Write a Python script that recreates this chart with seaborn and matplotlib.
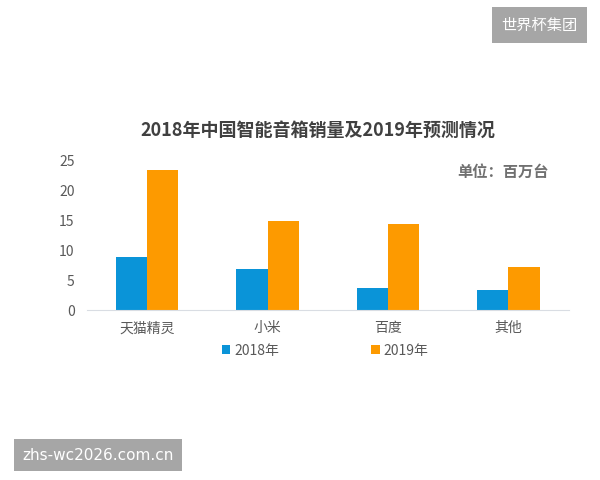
import matplotlib
matplotlib.use("Agg")
import matplotlib.pyplot as plt
import seaborn as sns
import pandas as pd

brands = ["天猫精灵", "小米", "百度", "其他"]
years = ["2018年", "2019年"]
sales_2018 = [8.8, 6.9, 3.7, 3.4]
sales_2019 = [23.4, 14.9, 14.4, 7.2]
y_ticks = [0, 5, 10, 15, 20, 25]

df = pd.DataFrame({
    "brand": brands * 2,
    "year": [years[0]] * 4 + [years[1]] * 4,
    "sales": sales_2018 + sales_2019,
})

sns.set_style("white")
plt.rcParams["font.family"] = ["Noto Sans CJK SC", "DejaVu Sans"]

fig = plt.figure(figsize=(6, 4.8), dpi=100)
ax = fig.add_axes([0.145, 0.354, 0.8025, 0.3125])

sns.barplot(data=df, x="brand", y="sales", hue="year",
            palette=["#0a94d8", "#fd9a00"], width=0.52,
            saturation=1, linewidth=0, ax=ax, legend=True)

ax.set_xlim(-0.5, 3.5)
ax.set_ylim(0, 25)
ax.set_yticks(y_ticks)
ax.set_xlabel("")
ax.set_ylabel("")
for s in ["top", "right", "left"]:
    ax.spines[s].set_visible(False)
ax.spines["bottom"].set_color("#d9dde3")
ax.tick_params(axis="both", length=0, labelsize=10, colors="#595959", pad=8)
ax.tick_params(axis="y", pad=9)

leg = ax.legend(loc="upper center", bbox_to_anchor=(0.495, -0.14), ncol=2,
                frameon=False, fontsize=10, handlelength=0.6, handleheight=0.6,
                columnspacing=6.6, handletextpad=0.3)
for t in leg.get_texts():
    t.set_color("#595959")

fig.text(0.53, 0.728, "2018年中国智能音箱销量及2019年预测情况", ha="center", va="center",
         fontsize=13, fontweight="bold", color="#404040")
fig.text(0.762, 0.641, "单位：百万台", ha="left", va="center",
         fontsize=11, fontweight="bold", color="#707070")

# watermark boxes
fig.text(0.899, 0.948, "世界杯集团", ha="center", va="center", fontsize=11, color="white",
         bbox=dict(boxstyle="square,pad=0.6", fc="#a6a6a6", ec="none"))
fig.text(0.163, 0.052, "zhs-wc2026.com.cn", ha="center", va="center", fontsize=11,
         color="white", bbox=dict(boxstyle="square,pad=0.55", fc="#a6a6a6", ec="none"),
         family=["DejaVu Sans"])

fig.savefig("out.png", dpi=100)
